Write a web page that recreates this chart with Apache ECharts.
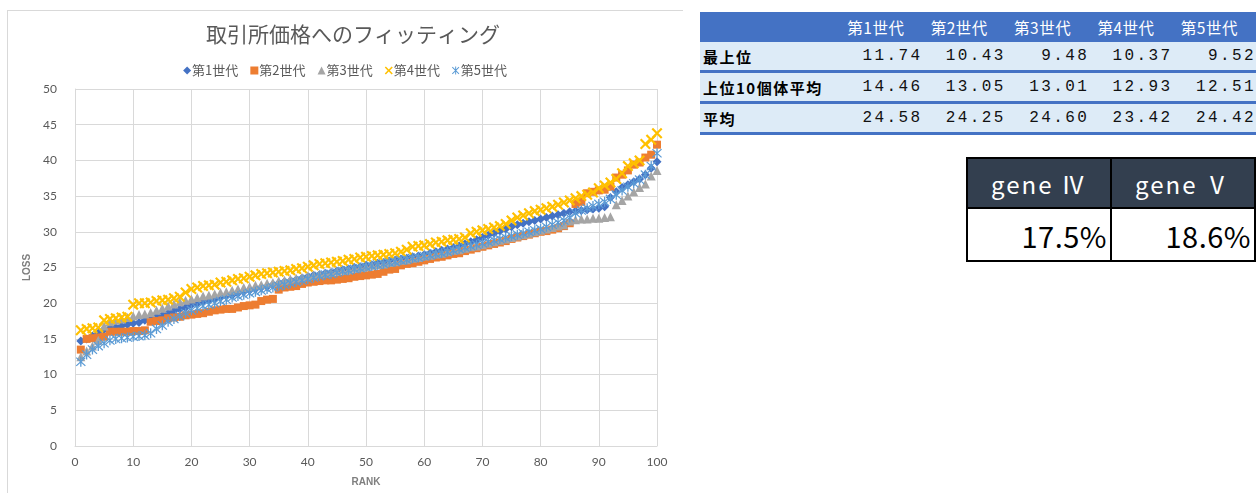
<!DOCTYPE html>
<html>
<head>
<meta charset="utf-8">
<script src="https://cdn.jsdelivr.net/npm/echarts@6/dist/echarts.min.js"></script>
<style>
  html, body { margin: 0; padding: 0; background: #fff; }
  body { width: 1256px; height: 493px; position: relative; overflow: hidden; font-family: "Noto Sans CJK JP", sans-serif; }
  #frame { position: absolute; left: 7px; top: 10px; width: 676px; height: 483px; border-left: 1px solid #d9d9d9; border-top: 1px solid #d9d9d9; box-sizing: border-box; }
  #chart { position: absolute; left: 0; top: 0; width: 690px; height: 493px; }
  #summary { position: absolute; left: 700px; top: 12px; }
  .row { position: absolute; left: 0; height: 31px; display: flex; align-items: center; box-sizing: border-box; }
  .row.head { background: #4472C4; color: #fff; height: 30px; }
  .row.body { background: #DDEBF7; border-bottom: 3px solid #4472C4; }
  .cell { box-sizing: border-box; white-space: nowrap; }
  .lab { width: 140px; padding-left: 3px; font-weight: bold; font-size: 15px; letter-spacing: 1.5px; color: #000; }
  .val { width: 83.4px; text-align: right; padding-right: 1px; font-family: "Liberation Mono", monospace; font-size: 16px; letter-spacing: 2.4px; color: #111; }
  .hd { width: 83.4px; text-align: right; padding-right: 19px; font-size: 15.5px; letter-spacing: 0.5px; }
  #gene { position: absolute; left: 966px; top: 157px; border-collapse: collapse; }
  #gene td { border: 2px solid #000; padding: 0; box-sizing: border-box; }
  #gene .gh { background: #333F4F; color: #fff; height: 50px; width: 145px; text-align: center; font-size: 24px; letter-spacing: 2px; }
  #gene .gv { background: #fff; color: #000; height: 53px; text-align: right; padding-right: 3px; font-size: 29px; letter-spacing: 0.5px; }
</style>
</head>
<body>
<div id="frame"></div>
<div id="chart"></div>
<div id="summary"></div>
<table id="gene"><tr id="geneHead"></tr><tr id="geneVal"></tr></table>
<script>
// Loss of each generation, sorted by rank (rank 1 .. 100)
const gen1 = [
  14.7, 15.0, 15.4, 15.8, 16.3, 16.5, 16.6, 16.8, 17.0, 17.2,
  17.3, 17.6, 17.8, 18.1, 18.3, 18.6, 18.9, 19.2, 19.4, 19.8,
  20.0, 20.2, 20.4, 20.6, 20.8, 21.0, 21.1, 21.4, 21.6, 21.8,
  22.0, 22.2, 22.3, 22.6, 22.8, 23.0, 23.1, 23.3, 23.5, 23.7,
  23.9, 24.0, 24.2, 24.3, 24.5, 24.7, 24.8, 25.0, 25.1, 25.3,
  25.4, 25.6, 25.7, 25.9, 26.0, 26.2, 26.3, 26.5, 26.6, 26.8,
  27.0, 27.2, 27.4, 27.6, 27.8, 28.0, 28.3, 28.6, 28.9, 29.2,
  29.5, 29.8, 30.1, 30.4, 30.7, 31.0, 31.2, 31.4, 31.6, 31.8,
  32.0, 32.2, 32.4, 32.6, 32.8, 32.9, 33.0, 33.1, 33.2, 33.3,
  33.5, 34.8, 35.6, 36.2, 36.6, 37.0, 37.4, 38.0, 38.9, 39.8
];
const gen2 = [
  13.5, 15.0, 15.1, 15.2, 15.3, 16.0, 16.0, 16.0, 16.0, 16.1,
  16.1, 16.2, 17.4, 17.5, 17.6, 17.9, 18.0, 18.1, 18.3, 18.4,
  18.5, 18.6, 18.8, 19.0, 19.1, 19.2, 19.2, 19.4, 19.6, 19.7,
  19.8, 20.3, 20.5, 20.6, 21.9, 22.2, 22.3, 22.4, 22.7, 22.9,
  23.0, 23.1, 23.2, 23.2, 23.3, 23.4, 23.5, 23.7, 23.8, 23.9,
  24.0, 24.1, 24.4, 24.7, 24.8, 25.3, 25.5, 25.6, 25.8, 26.0,
  26.2, 26.4, 26.5, 26.7, 26.9, 27.0, 27.3, 27.5, 27.7, 27.9,
  28.1, 28.3, 28.5, 28.7, 29.0, 29.2, 29.4, 29.6, 29.8, 30.0,
  30.1, 30.3, 30.5, 30.8, 31.2, 33.9, 34.2, 35.4, 35.6, 35.8,
  35.9, 36.3, 37.6, 38.0, 38.6, 39.4, 39.7, 40.4, 40.8, 42.2
];
const gen3 = [
  12.5, 13.3, 14.0, 14.8, 16.8, 17.4, 17.6, 17.8, 18.0, 18.2,
  18.4, 18.5, 18.7, 19.0, 19.3, 19.6, 19.9, 20.2, 20.4, 20.6,
  20.8, 21.0, 21.1, 21.3, 21.5, 21.6, 21.8, 22.0, 22.2, 22.3,
  22.5, 22.6, 22.8, 22.9, 23.1, 23.2, 23.4, 23.5, 23.6, 23.8,
  23.9, 24.1, 24.2, 24.3, 24.5, 24.6, 24.7, 24.9, 25.0, 25.1,
  25.3, 25.4, 25.5, 25.7, 25.8, 26.0, 26.1, 26.3, 26.4, 26.6,
  26.7, 26.9, 27.0, 27.2, 27.4, 27.5, 27.7, 27.9, 28.0, 28.2,
  28.4, 28.6, 28.8, 29.0, 29.2, 29.4, 29.6, 29.8, 30.0, 30.2,
  30.4, 30.6, 30.8, 31.0, 31.5, 31.7, 31.8, 31.8, 31.9, 31.9,
  32.0, 32.1, 33.8, 34.4, 35.0, 35.6, 36.2, 36.7, 37.8, 38.6
];
const gen4 = [
  16.2, 16.4, 16.5, 16.6, 17.6, 17.8, 17.9, 18.0, 18.1, 19.8,
  20.0, 20.0, 20.1, 20.3, 20.4, 20.5, 20.7, 20.9, 21.5, 22.0,
  22.2, 22.4, 22.5, 22.6, 22.9, 23.0, 23.2, 23.4, 23.5, 23.7,
  23.9, 24.1, 24.2, 24.3, 24.4, 24.5, 24.6, 24.8, 24.9, 25.1,
  25.3, 25.5, 25.6, 25.7, 25.8, 25.9, 26.1, 26.2, 26.4, 26.5,
  26.6, 26.7, 26.8, 26.9, 27.0, 27.2, 27.5, 27.9, 28.0, 28.1,
  28.3, 28.5, 28.6, 28.8, 28.9, 29.0, 29.2, 29.8, 30.0, 30.2,
  30.4, 30.6, 30.8, 31.1, 31.6, 32.0, 32.3, 32.6, 32.9, 33.1,
  33.3, 33.5, 33.8, 34.1, 34.4, 34.7, 35.0, 35.2, 35.5, 36.1,
  36.5, 36.9, 37.4, 38.2, 39.2, 39.6, 40.0, 42.3, 42.9, 43.8
];
const gen5 = [
  11.8, 12.8, 13.5, 14.0, 14.4, 14.8, 15.0, 15.1, 15.2, 15.3,
  15.4, 15.5, 15.8, 16.4, 16.9, 17.4, 17.8, 18.2, 18.6, 19.0,
  19.3, 19.6, 19.8, 20.0, 20.3, 20.5, 20.8, 21.0, 21.2, 21.4,
  21.6, 21.8, 22.0, 22.2, 22.4, 22.6, 22.8, 23.0, 23.2, 23.4,
  23.6, 23.8, 24.0, 24.1, 24.3, 24.5, 24.6, 24.8, 24.9, 25.1,
  25.2, 25.4, 25.5, 25.7, 25.8, 26.0, 26.1, 26.3, 26.4, 26.6,
  26.7, 26.9, 27.0, 27.2, 27.4, 27.6, 27.8, 28.0, 28.2, 28.4,
  28.6, 28.8, 29.0, 29.2, 29.4, 29.6, 29.8, 30.0, 30.2, 30.4,
  30.7, 31.0, 31.3, 31.6, 32.0, 32.6, 33.0, 33.3, 33.6, 33.9,
  34.2, 34.6, 35.2, 35.8, 36.3, 36.8, 37.3, 38.0, 39.2, 41.0
];

const seriesNames = ['第1世代', '第2世代', '第3世代', '第4世代', '第5世代'];
const seriesColors = ['#4472C4', '#ED7D31', '#A5A5A5', '#FFC000', '#5B9BD5'];

// Summary table
const rowLabels = ['最上位', '上位10個体平均', '平均'];
const bestLoss  = [11.74, 10.43, 9.48, 10.37, 9.52];
const top10Loss = [14.46, 13.05, 13.01, 12.93, 12.51];
const meanLoss  = [24.58, 24.25, 24.60, 23.42, 24.42];

// Gene table
const geneNames = ['gene Ⅳ', 'gene Ⅴ'];
const geneRates = [17.5, 18.6];

// marker shapes
const crossPath = 'path://M1.4,0 L5,3.6 L8.6,0 L10,1.4 L6.4,5 L10,8.6 L8.6,10 L5,6.4 L1.4,10 L0,8.6 L3.6,5 L0,1.4 Z';
const starPath = 'path://M1.2,0.4 L5,4.2 L8.8,0.4 L9.6,1.2 L5.8,5 L9.6,8.8 L8.8,9.6 L5,5.8 L1.2,9.6 L0.4,8.8 L4.2,5 L0.4,1.2 Z M4.4,0 L5.6,0 L5.6,10 L4.4,10 Z';
const symbols = ['diamond', 'rect', 'triangle', crossPath, starPath];
const symbolSizes = [9, 8, 9, 11, 10];

const allSeries = [gen1, gen2, gen3, gen4, gen5];

const chart = echarts.init(document.getElementById('chart'), null, { renderer: 'canvas' });
const tickFont = { color: '#595959', fontSize: 12, fontFamily: 'Lato, "Liberation Sans", sans-serif' };
const nameFont = { color: '#7f7f7f', fontSize: 10, fontWeight: 'bold', fontFamily: '"Liberation Sans Narrow", "Liberation Sans", sans-serif' };

chart.setOption({
  animation: false,
  title: {
    text: '取引所価格へのフィッティング',
    left: 348,
    textAlign: 'center',
    top: 19,
    textStyle: { color: '#595959', fontSize: 21, fontWeight: 'normal', fontFamily: '"Noto Sans CJK JP", sans-serif' }
  },
  legend: {
    data: seriesNames.map((n, i) => ({ name: n, icon: symbols[i] })),
    left: 'center',
    top: 59,
    itemWidth: 8,
    itemHeight: 8,
    itemGap: 12,
    textStyle: { color: '#595959', fontSize: 13, fontFamily: '"Noto Sans CJK JP", sans-serif', padding: [0, 0, 0, -4] }
  },
  grid: { left: 75, top: 89, width: 582, height: 357 },
  xAxis: {
    type: 'value', min: 0, max: 100, interval: 10,
    name: 'RANK', nameLocation: 'middle', nameGap: 31, nameTextStyle: nameFont,
    axisLine: { show: true, lineStyle: { color: '#d9d9d9' } },
    axisTick: { show: false },
    axisLabel: Object.assign({ margin: 10 }, tickFont),
    splitLine: { show: true, lineStyle: { color: '#d9d9d9' } }
  },
  yAxis: {
    type: 'value', min: 0, max: 50, interval: 5,
    name: 'LOSS', nameLocation: 'middle', nameGap: 40, nameTextStyle: nameFont,
    axisLine: { show: true, lineStyle: { color: '#d9d9d9' } },
    axisTick: { show: false },
    axisLabel: Object.assign({ margin: 18 }, tickFont),
    splitLine: { show: true, lineStyle: { color: '#d9d9d9' } }
  },
  series: allSeries.map((vals, i) => ({
    name: seriesNames[i],
    type: 'scatter',
    symbol: symbols[i],
    symbolSize: symbolSizes[i],
    itemStyle: { color: seriesColors[i], opacity: 1 },
    data: vals.map((v, k) => [k + 1, v])
  }))
});

// build summary table
const summary = document.getElementById('summary');
const rows = [
  { cls: 'head', label: '', vals: seriesNames, fmt: v => v },
  { cls: 'body', label: rowLabels[0], vals: bestLoss, fmt: v => v.toFixed(2) },
  { cls: 'body', label: rowLabels[1], vals: top10Loss, fmt: v => v.toFixed(2) },
  { cls: 'body', label: rowLabels[2], vals: meanLoss, fmt: v => v.toFixed(2) }
];
const rowTops = [0, 30, 61, 92];
rows.forEach((r, ri) => {
  const div = document.createElement('div');
  div.className = 'row ' + r.cls;
  div.style.top = rowTops[ri] + 'px';
  const lab = document.createElement('div');
  lab.className = 'cell lab';
  lab.textContent = r.label;
  div.appendChild(lab);
  r.vals.forEach(v => {
    const c = document.createElement('div');
    c.className = 'cell ' + (r.cls === 'head' ? 'hd' : 'val');
    c.textContent = r.fmt(v);
    div.appendChild(c);
  });
  div.style.width = (140 + 83.4 * 5) + 'px';
  summary.appendChild(div);
});

// build gene table
const gh = document.getElementById('geneHead');
const gv = document.getElementById('geneVal');
geneNames.forEach((n, i) => {
  const h = document.createElement('td');
  h.className = 'gh';
  h.textContent = n;
  gh.appendChild(h);
  const v = document.createElement('td');
  v.className = 'gv';
  v.textContent = geneRates[i].toFixed(1) + '%';
  gv.appendChild(v);
});
</script>
</body>
</html>
